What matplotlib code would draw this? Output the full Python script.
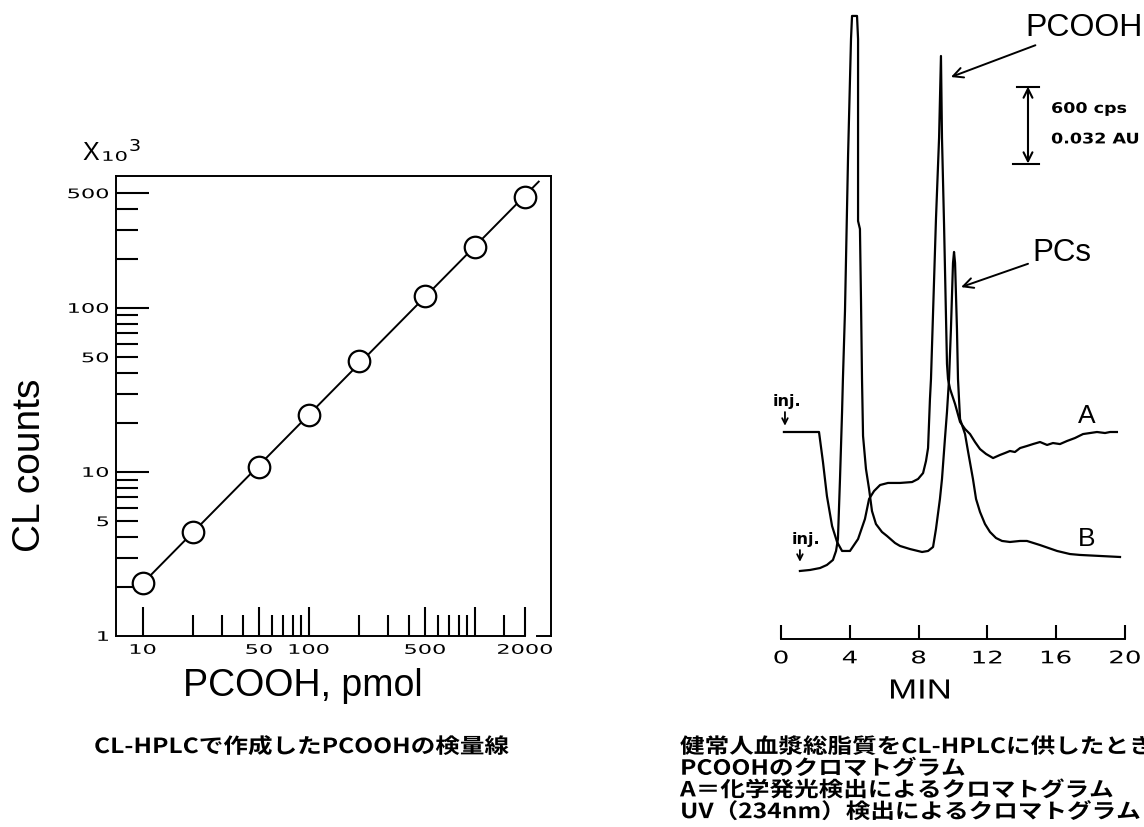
import numpy as np
import matplotlib
matplotlib.use("Agg")
import matplotlib.pyplot as plt
from matplotlib.ticker import FixedLocator, NullFormatter
from matplotlib.textpath import TextPath
from matplotlib.patches import PathPatch
from matplotlib.font_manager import FontProperties
from matplotlib.transforms import Affine2D, blended_transform_factory

# --- calibration curve (CL counts vs PCOOH amount) ---
pcooh_pmol = [10, 20, 50, 100, 200, 500, 1000, 2000]
cl_counts_k = [2.1, 4.3, 10.7, 22.4, 47.5, 119, 236, 475]   # x10^3 counts
fit_range = (9, 2420)

x_major = [10, 50, 100, 500, 1000, 2000]
x_minor = [20, 30, 40, 60, 70, 80, 90, 200, 300, 400, 600, 700, 800, 900, 1500]
x_labels = [10, 50, 100, 500, 2000]
y_major = [10, 100, 500]
y_minor = [2, 3, 4, 5, 6, 7, 8, 9, 20, 30, 40, 50, 60, 70, 80, 90, 200, 300, 400]
y_labels = [1, 5, 10, 50, 100, 500]

# --- chromatogram traces (time in min, signal in cps) ---
time_a = [0.17, 2.21, 2.44, 2.67, 2.97, 3.26, 3.55, 4.01, 4.48, 4.88, 5.12, 5.41,
          5.76, 6.22, 6.92, 7.62, 7.97, 8.26, 8.43, 8.55, 8.66, 8.72, 9.01, 9.19,
          9.30, 9.36, 9.48, 9.65, 9.71, 9.83, 10.12, 10.41, 10.70, 10.99, 11.28,
          11.57, 11.92, 12.33, 12.73, 13.02, 13.31, 13.60, 13.90, 14.30, 14.65,
          15.06, 15.47, 15.81, 16.22, 16.63, 17.09, 17.56, 17.97, 18.37, 18.84,
          19.13, 19.53]
signal_a = [1613, 1613, 1379, 1114, 880, 756, 686, 686, 779, 935, 1091, 1153,
            1200, 1216, 1216, 1223, 1247, 1293, 1387, 1488, 1870, 2026, 3273, 3904,
            4543, 3904, 3226, 2143, 2026, 1948, 1831, 1691, 1636, 1597, 1535,
            1480, 1442, 1410, 1434, 1449, 1465, 1457, 1488, 1504, 1519,
            1535, 1512, 1527, 1519, 1543, 1566, 1597, 1605, 1613, 1605,
            1613, 1613]

time_b = [1.10, 1.69, 2.27, 2.67, 3.02, 3.20, 3.31, 3.43, 3.55, 3.60, 3.72, 3.90,
          4.07, 4.13, 4.42, 4.48, 4.48, 4.59, 4.65, 4.71, 4.77, 4.94, 5.12, 5.29,
          5.52, 5.87, 6.16, 6.63, 6.92, 7.50, 8.20, 8.55, 8.84, 9.01, 9.24, 9.36,
          9.53, 9.65, 9.77, 9.88, 10.00, 10.06, 10.12, 10.23, 10.29, 10.41, 10.70,
          10.87, 11.16, 11.34, 11.57, 11.86, 12.15, 12.50, 12.85, 13.31, 13.90,
          14.30, 15.06, 16.05, 16.80, 17.38, 18.55, 19.71]
signal_b = [530, 538, 553, 577, 616, 686, 779, 1247, 1769, 2026, 2556, 3771,
            4675, 4855, 4855, 4675, 3257, 3195, 2649, 2026, 1582, 1325, 1169, 997,
            896, 834, 803, 748, 725, 701, 678, 686, 717, 857, 1091, 1247,
            1558, 1769, 2026, 2416, 2930, 3016, 2930, 2416, 2026, 1714, 1597,
            1465, 1247, 1091, 990, 896, 834, 787, 764, 756, 764,
            764, 732, 686, 662, 655, 647, 639]

time_ticks = [0, 4, 8, 12, 16, 20]
scale_cps = 600

W, H = 1144, 828
plt.rcParams['font.family'] = ['DejaVu Sans']
fig = plt.figure(figsize=(W / 100, H / 100), dpi=100)
K = fig.dpi / 72


def fx(px):
    return px / W


def fy(py):
    return 1 - py / H


def path_text(x, y, s, size, sx=1.0, ha='center', va='center',
              family='DejaVu Sans', weight='normal'):
    """Text drawn as an outline at display pixel (x, y), stretched sideways by sx."""
    fp = FontProperties(family=family, weight=weight)
    tp = TextPath((0, 0), s, size=size, prop=fp)
    ext = tp.get_extents()
    ox = {'left': 0.0, 'center': (ext.x0 + ext.x1) / 2, 'right': ext.x1}[ha]
    oy = {'baseline': 0.0, 'center': (ext.y0 + ext.y1) / 2}[va]
    tr = Affine2D().translate(-ox, -oy).scale(sx * K, K).translate(x, y)
    fig.add_artist(PathPatch(tp, transform=tr, facecolor='black', edgecolor='none'))


sans = ['Liberation Sans', 'DejaVu Sans']
jp = 'Noto Sans CJK JP'

# ---------------- left: calibration curve ----------------
ax = fig.add_axes([fx(116), fy(637), fx(551) - fx(116), fy(177) - fy(637)])
ax.set_xscale('log')
ax.set_yscale('log')
ax.set_xlim(6.87, 2870)
ax.set_ylim(1, 638)

coef = np.polyfit(np.log10(pcooh_pmol), np.log10(cl_counts_k), 1)
xs = np.array(fit_range, dtype=float)
ax.plot(xs, 10 ** np.polyval(coef, np.log10(xs)), color='black', lw=1.4, zorder=2)
ax.plot(pcooh_pmol, cl_counts_k, 'o', ms=15.5, mfc='white', mec='black', mew=1.6,
        zorder=3)

ax.xaxis.set_major_locator(FixedLocator(x_major))
ax.xaxis.set_minor_locator(FixedLocator(x_minor))
ax.yaxis.set_major_locator(FixedLocator(y_major))
ax.yaxis.set_minor_locator(FixedLocator(y_minor))
for axis in (ax.xaxis, ax.yaxis):
    axis.set_major_formatter(NullFormatter())
    axis.set_minor_formatter(NullFormatter())
ax.tick_params(axis='both', which='both', direction='in', width=1.5,
               top=False, right=False)
ax.tick_params(axis='x', which='major', length=21)
ax.tick_params(axis='x', which='minor', length=15)
ax.tick_params(axis='y', which='major', length=24)
ax.tick_params(axis='y', which='minor', length=16)
for sp in ax.spines.values():
    sp.set_linewidth(1.4)
ax.spines['bottom'].set_bounds(6.87, 2000)
ax.plot([2360, 2870], [1, 1], color='black', lw=1.4, clip_on=False)

# squat tick numerals
xt = blended_transform_factory(ax.transData, ax.transAxes)
for v in x_labels:
    px, py = xt.transform((v, 0))
    path_text(px, py - 13, str(v), 9.5, sx=1.7)
yt = blended_transform_factory(ax.transAxes, ax.transData)
for v in y_labels:
    px, py = yt.transform((0, v))
    path_text(px - 8, py, str(v), 9.5, sx=1.7, ha='right')

fig.text(fx(91), fy(153), "X", fontsize=18, ha='center', va='center', family=sans)
path_text(115, H - 157, "10", 9.5, sx=1.6)
path_text(135, H - 146, "3", 11.5, sx=1.2)
fig.text(fx(30), fy(465), "CL counts", fontsize=28, rotation=90,
         ha='center', va='center', family=sans)
fig.text(fx(303), fy(686), "PCOOH, pmol", fontsize=27, ha='center', va='center',
         family=sans)
path_text(302, H - 754, "CL-HPLCで作成したPCOOHの検量線", 15, sx=1.18,
          va='baseline', family=jp, weight='bold')

# ---------------- right: chromatogram ----------------
t_per_px = 1 / 17.2
cps_per_px = 600 / 77
ax2 = fig.add_axes([fx(760), fy(640), fx(1144) - fx(760), fy(0) - fy(640)])
ax2.set_xlim((760 - 781) * t_per_px, (1144 - 781) * t_per_px)
ax2.set_ylim(0, 640 * cps_per_px)
ax2.patch.set_alpha(0)

ax2.plot(time_a, signal_a, color='black', lw=1.6, solid_joinstyle='round')
ax2.plot(time_b, signal_b, color='black', lw=1.6, solid_joinstyle='round')

for sp in ['top', 'left', 'right']:
    ax2.spines[sp].set_visible(False)
ax2.spines['bottom'].set_bounds(time_ticks[0], time_ticks[-1])
ax2.spines['bottom'].set_linewidth(1.4)
ax2.set_xticks(time_ticks)
ax2.xaxis.set_major_formatter(NullFormatter())
ax2.set_yticks([])
ax2.tick_params(axis='x', direction='in', length=10, width=1.5)

tt = blended_transform_factory(ax2.transData, ax2.transAxes)
for v in time_ticks:
    px, py = tt.transform((v, 0))
    path_text(px, py - 18, str(v), 12.5, sx=1.5)

path_text(920, H - 690, "MIN", 20, sx=1.25, family='Liberation Sans')

# injection marks
ax2.text(0.35, 1860, "inj.", fontsize=11.5, weight='bold', ha='center', va='center')
ax2.annotate("", xy=(0.23, 1640), xytext=(0.23, 1790),
             arrowprops=dict(arrowstyle='->', lw=1.3, color='black'))
ax2.text(1.45, 785, "inj.", fontsize=11.5, weight='bold', ha='center', va='center')
ax2.annotate("", xy=(1.10, 580), xytext=(1.10, 715),
             arrowprops=dict(arrowstyle='->', lw=1.3, color='black'))

# peak labels
ax2.annotate("PCOOH", xy=(9.88, 4379), xytext=(14.2, 4769), fontsize=23,
             family=sans, ha='left', va='center',
             arrowprops=dict(arrowstyle='->', lw=1.4, color='black',
                             shrinkA=1, shrinkB=0, mutation_scale=18))
ax2.annotate("PCs", xy=(10.47, 2742), xytext=(14.6, 3015), fontsize=22.5,
             family=sans, ha='left', va='center',
             arrowprops=dict(arrowstyle='->', lw=1.4, color='black',
                             shrinkA=1, shrinkB=0, mutation_scale=18))

# scale bar: 600 cps / 0.032 AU
bar_t, bar_top = 14.36, 4305
ax2.annotate("", xy=(bar_t, bar_top), xytext=(bar_t, bar_top - scale_cps),
             arrowprops=dict(arrowstyle='<->', lw=1.5, color='black',
                             shrinkA=0, shrinkB=0, mutation_scale=16))
ax2.plot([bar_t - 0.65, bar_t + 0.65], [bar_top, bar_top], color='black', lw=1.5)
ax2.plot([bar_t - 0.85, bar_t + 0.65], [bar_top - scale_cps] * 2, color='black', lw=1.5)
bx, by = ax2.transData.transform((15.7, 4130))
path_text(bx, by, "600 cps", 10.5, sx=1.2, ha='left', weight='bold')
bx, by = ax2.transData.transform((15.7, 3903))
path_text(bx, by, "0.032 AU", 10.5, sx=1.2, ha='left', weight='bold')

ax2.text(17.79, 1745, "A", fontsize=19, family=sans, ha='center', va='center')
ax2.text(17.79, 787, "B", fontsize=19, family=sans, ha='center', va='center')

caption = ["健常人血漿総脂質をCL-HPLCに供したときの",
           "PCOOHのクロマトグラム",
           "A＝化学発光検出によるクロマトグラム",
           "UV（234nm）検出によるクロマトグラム"]
for i, line in enumerate(caption):
    path_text(680, H - (754 + 21.7 * i), line, 15, sx=1.18, ha='left',
              va='baseline', family=jp, weight='bold')

fig.savefig("out.png", dpi=100)
